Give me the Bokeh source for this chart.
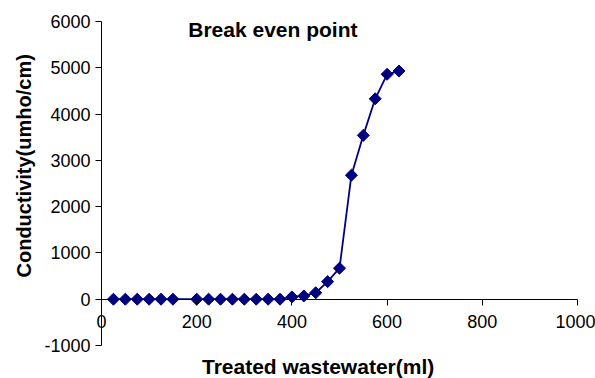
import math
from bokeh.plotting import figure
from bokeh.models import Range1d, FixedTicker, Label, LinearAxis, Title
from bokeh.embed import file_html
from bokeh.resources import INLINE

# ---- data ----
volume_ml = [25, 50, 75, 100, 125, 150, 200, 225, 250, 275, 300, 325, 350, 375,
             400, 425, 450, 475, 500, 525, 550, 575, 600, 625]
conductivity = [0, 0, 0, 0, 0, 0, 0, 0, 0, 0, 0, 0, 0, 0,
                50, 70, 140, 380, 670, 2680, 3540, 4330, 4860, 4930]
x_ticks = [0, 200, 400, 600, 800, 1000]
y_ticks = [-1000, 0, 1000, 2000, 3000, 4000, 5000, 6000]
title_text = "Break even point"
x_label = "Treated wastewater(ml)"
y_label = "Conductivity(umho/cm)"

FONT = "Liberation Sans"
NAVY = "#000080"

# frame extends beyond the axes so that tick labels / texts are not clipped
p = figure(width=595, height=378, output_backend="svg", toolbar_location=None,
           x_range=Range1d(-128.2, 1037.8), y_range=Range1d(-1713, 6281),
           x_axis_location=None, y_axis_location=None)
p.min_border_left = 40
p.min_border_right = 0
p.min_border_top = 8
p.min_border_bottom = 0
p.outline_line_color = None
p.background_fill_color = "white"
p.border_fill_color = "white"
p.grid.grid_line_color = None
p.grid.visible = False


def style_axis(ax, ticks, standoff):
    ax.ticker = FixedTicker(ticks=ticks)
    ax.major_label_overrides = {t: str(t) for t in ticks}
    ax.bounds = (ticks[0], ticks[-1])
    ax.major_tick_in = 0
    ax.major_tick_out = 6
    ax.minor_tick_line_color = None
    ax.axis_line_color = "black"
    ax.major_tick_line_color = "black"
    ax.major_label_text_font = FONT
    ax.major_label_text_font_size = "18px"
    ax.major_label_text_color = "black"
    ax.major_label_standoff = standoff


# y axis at x = 0
ya = LinearAxis(fixed_location=0)
style_axis(ya, y_ticks, 5)
p.add_layout(ya, "left")

# x axis crossing at y = 0
xa = LinearAxis(fixed_location=0)
style_axis(xa, x_ticks, 10)
p.add_layout(xa, "below")

# y axis title
p.add_layout(Title(text=y_label, align="left", offset=101, standoff=11,
                   text_font=FONT, text_font_style="bold", text_font_size="20px",
                   text_color="black"), "left")

# series
p.line(volume_ml, conductivity, line_color=NAVY, line_width=1.8)
p.scatter(volume_ml, conductivity, marker="square", angle=math.pi / 4, size=8.5,
          fill_color=NAVY, line_color=NAVY, line_width=1)

# chart title and x axis title
p.add_layout(Label(x=360, y=5838, text=title_text, text_align="center",
                   text_baseline="alphabetic", text_font=FONT,
                   text_font_style="bold", text_font_size="21px", text_color="black"))
p.add_layout(Label(x=455, y=-1464, text=x_label, text_align="center",
                   text_baseline="alphabetic", text_font=FONT,
                   text_font_style="bold", text_font_size="21px", text_color="black"))

open("out.html", "w").write(file_html(p, INLINE))
